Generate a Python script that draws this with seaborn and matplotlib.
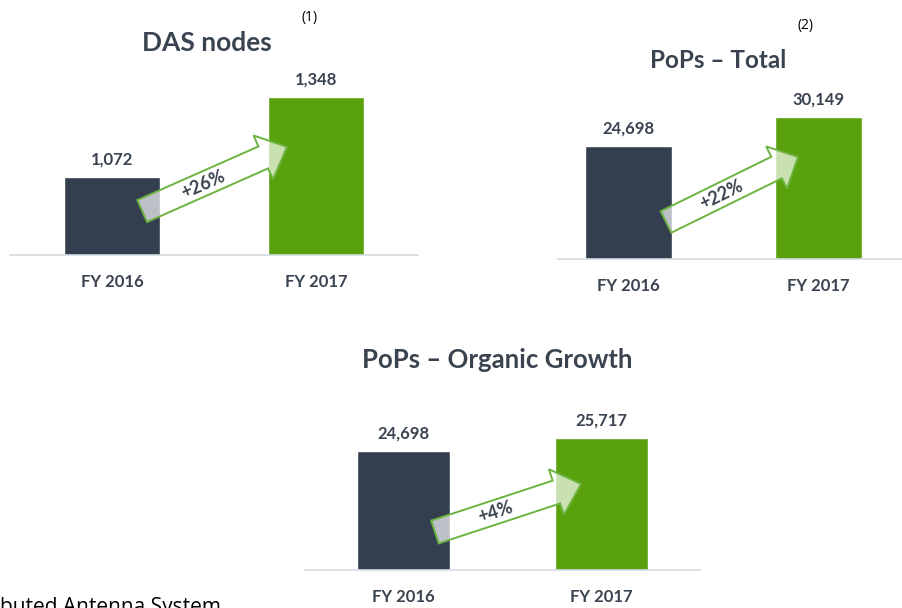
import numpy as np
import matplotlib
matplotlib.use("Agg")
import matplotlib.pyplot as plt
from matplotlib.patches import Polygon
import seaborn as sns

# data
years = ["FY 2016", "FY 2017"]
das_nodes = [1072, 1348]
pops_total = [24698, 30149]
pops_organic = [24698, 25717]
growth = ["+26%", "+22%", "+4%"]

DARK = "#333f4f"
GREEN = "#5aa10e"
TXT = "#3a4350"

sns.set_theme(style="white")
plt.rcParams["font.family"] = ["Lato", "DejaVu Sans"]

fig = plt.figure(figsize=(9.02, 6.08), dpi=100)
W, H = 902, 608


def px_axes(left, right, bottom, top):
    # pixel box (y from top) -> figure fraction
    return fig.add_axes([left / W, (H - bottom) / H, (right - left) / W, (bottom - top) / H])


def bar_panel(ax, vals, width, xlim, ylim):
    sns.barplot(x=years, y=vals, hue=years, palette=[DARK, GREEN], saturation=1,
                width=width, legend=False, ax=ax)
    ax.set_xlim(*xlim)
    ax.set_ylim(*ylim)
    for c in ax.containers:
        ax.bar_label(c, labels=[f"{int(round(v)):,}" for v in c.datavalues], padding=7,
                     fontsize=12, fontweight="bold", color=TXT)
    sns.despine(ax=ax, left=True)
    ax.spines["bottom"].set_color("#d3dbe3")
    ax.spines["bottom"].set_linewidth(1.2)
    ax.set_yticks([])
    ax.set_xlabel("")
    ax.set_ylabel("")
    ax.tick_params(axis="x", length=0, pad=14)
    for t in ax.get_xticklabels():
        t.set_fontweight("bold")
        t.set_fontsize(12)
        t.set_color(TXT)
    ax.patch.set_alpha(0)


def growth_arrow(ax, tail, tip, label, shaft=24, head_w=48, head_l=26):
    p0 = ax.transAxes.transform(tail)
    p1 = ax.transAxes.transform(tip)
    d = p1 - p0
    u = d / np.hypot(*d)
    n = np.array([-u[1], u[0]])
    base = p1 - u * head_l
    pts = [p0 + n * shaft / 2, base + n * shaft / 2, base + n * head_w / 2, p1,
           base - n * head_w / 2, base - n * shaft / 2, p0 - n * shaft / 2]
    pts = fig.transFigure.inverted().transform(np.array(pts))
    fig.patches.append(Polygon(pts, closed=True, transform=fig.transFigure,
                               facecolor=(1, 1, 1, 0.68), edgecolor="#6db33f",
                               linewidth=1.4, zorder=3))
    mid = fig.transFigure.inverted().transform((p0 + base) / 2)
    ang = np.degrees(np.arctan2(d[1], d[0]))
    fig.text(mid[0], mid[1], label, rotation=ang, rotation_mode="anchor",
             ha="center", va="center", fontsize=13, fontweight="bold",
             color=TXT, zorder=4)


# DAS nodes
ax1 = px_axes(10, 418, 255, 20)
bar_panel(ax1, das_nodes, 0.47, (-0.5, 1.5), (803, 803 + 235 / 0.29))
growth_arrow(ax1, (0.324, 0.187), (0.679, 0.46), growth[0])
fig.text(207 / W, 1 - 43 / H, "DAS nodes", ha="center", va="center",
         fontsize=19, fontweight="bold", color=TXT)
fig.text(310 / W, 1 - 18 / H, "(1)", ha="center", va="center", fontsize=10,
         color="black", family=["Open Sans", "DejaVu Sans"])

# PoPs - Total
ax2 = px_axes(558, 902, 259, 20)
bar_panel(ax2, pops_total, 0.458, (-0.37, 1.44), (3458, 3458 + 239 / 0.00532))
growth_arrow(ax2, (0.314, 0.155), (0.698, 0.427), growth[1], shaft=24, head_w=47, head_l=24)
fig.text(718 / W, 1 - 60 / H, "PoPs \u2013 Total", ha="center", va="center",
         fontsize=17.5, fontweight="bold", color=TXT)
fig.text(805 / W, 1 - 26 / H, "(2)", ha="center", va="center", fontsize=10,
         color="black", family=["Open Sans", "DejaVu Sans"])

# PoPs - Organic Growth
ax3 = px_axes(305, 700, 570, 380)
bar_panel(ax3, pops_organic, 0.47, (-0.5, 1.5), (15372, 15372 + 190 / 0.01276))
growth_arrow(ax3, (0.329, 0.2), (0.699, 0.453), growth[2])
fig.text(497 / W, 1 - 360 / H, "PoPs \u2013 Organic Growth", ha="center", va="center",
         fontsize=18.5, fontweight="bold", color=TXT)

# footnote cut off at the bottom edge, as in the source slide
fig.text(0 / W, 1 - 597 / H, "buted Antenna System", ha="left", va="top",
         fontsize=15, color="black", family=["Open Sans", "DejaVu Sans"])

fig.savefig("out.png", dpi=100)
